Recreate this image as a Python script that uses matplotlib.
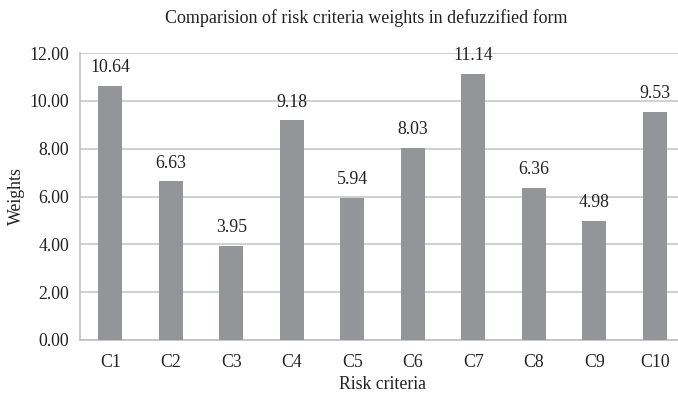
import matplotlib
matplotlib.use("Agg")
import matplotlib.pyplot as plt

categories = ["C1", "C2", "C3", "C4", "C5", "C6", "C7", "C8", "C9", "C10"]
weights = [10.64, 6.63, 3.95, 9.18, 5.94, 8.03, 11.14, 6.36, 4.98, 9.53]
yticks = [0, 2, 4, 6, 8, 10, 12]

plt.rcParams['font.family'] = ['Liberation Serif', 'DejaVu Serif']
fs = 12.8

fig = plt.figure(figsize=(6.78, 3.97), dpi=100)
ax = fig.add_axes([80/678, 1 - 340/397, 605/678, (340-53)/397])

x = list(range(len(categories)))
ax.bar(x, weights, width=0.4, color="#939598", zorder=3)
for xi, v in zip(x, weights):
    ax.annotate(f"{v:.2f}", (xi, v), xytext=(0, 7), textcoords="offset points",
                ha="center", va="bottom", fontsize=fs, color="#222222", zorder=4)

ax.set_xlim(-0.5, len(categories) - 0.5)
ax.set_ylim(0, 12)
ax.set_yticks(yticks)
ax.set_yticklabels([f"{t:.2f}" for t in yticks], fontsize=fs, color="#222222")
ax.set_xticks(x)
ax.set_xticklabels(categories, fontsize=fs, color="#222222")
ax.tick_params(axis="y", length=0, pad=8)
ax.tick_params(axis="x", length=0, pad=10)
ax.yaxis.grid(True, color="#c8c8c8", linewidth=1.2, zorder=0)
for s in ["top", "right"]:
    ax.spines[s].set_visible(False)
for s in ["left", "bottom"]:
    ax.spines[s].set_color("#c0c0c0")
    ax.spines[s].set_linewidth(1.2)

ax.set_xlabel("Risk criteria", fontsize=fs, color="#222222", labelpad=4)
ax.set_ylabel("Weights", fontsize=fs, color="#222222", labelpad=3)
fig.text(0.54, 1 - 18/397, "Comparision of risk criteria weights in defuzzified form",
         ha="center", va="center", fontsize=13, color="#222222")

fig.savefig("out.png", dpi=100)
